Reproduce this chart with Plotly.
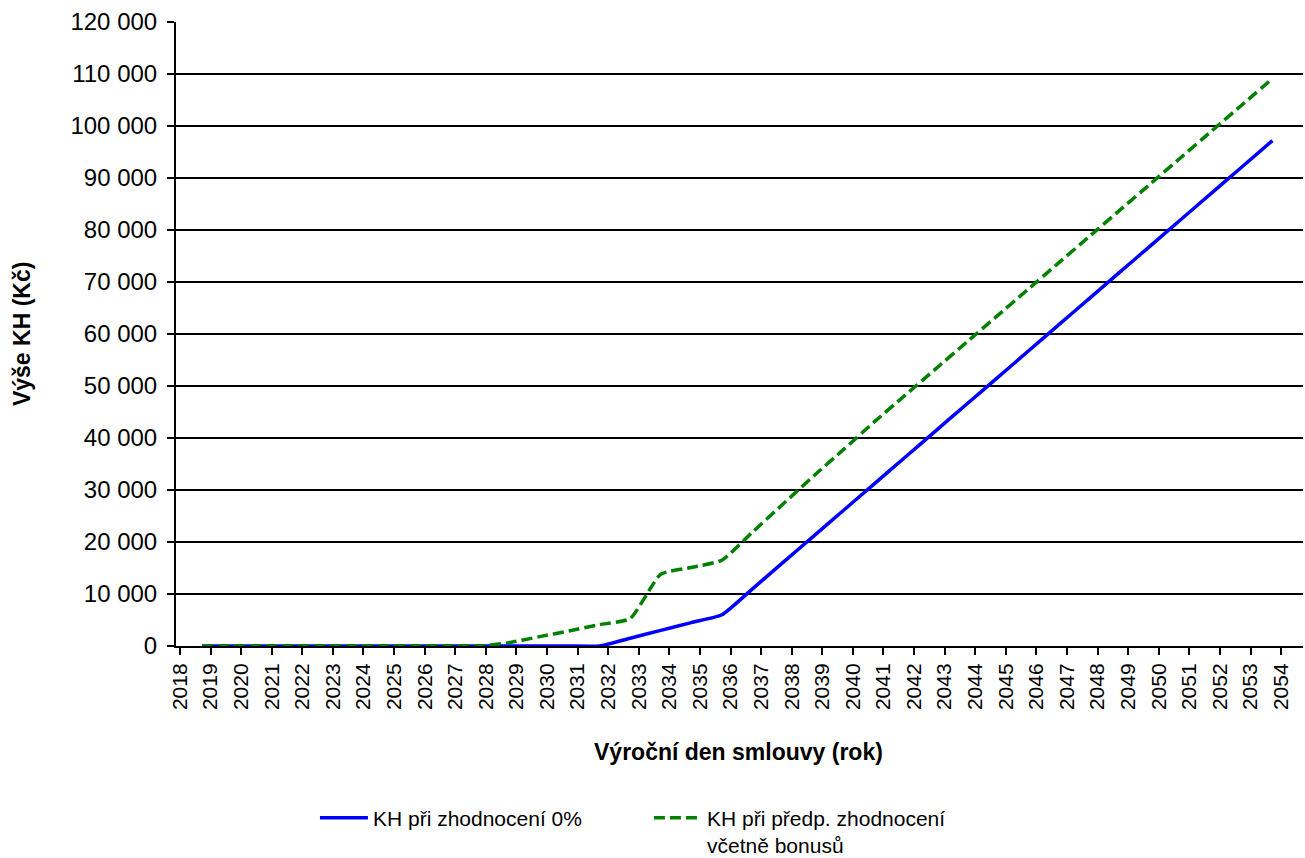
import plotly.graph_objects as go

# Anniversary dates (výroční den smlouvy)
years = list(range(2018, 2054))
dates = [f"{y}-09-20" for y in years]

# KH při zhodnocení 0 %
kh_0 = [0, 0, 0, 0, 0, 0, 0, 0, 0, 0,
        0, 0, 0, 0, 1500, 3000, 4500, 6000,
        11000, 16070, 21140, 26210, 31280, 36350, 41420, 46490, 51560,
        56630, 61700, 66770, 71840, 76910, 81980, 87050, 92120, 97190]

# KH při předp. zhodnocení včetně bonusů
kh_bonus = [0, 0, 0, 0, 0, 0, 0, 0, 0, 0,
            600, 1750, 2900, 4100, 5270, 13800, 15100, 16500,
            21900, 27300, 32700, 37900, 43200, 48270, 53340, 58410, 63480,
            68550, 73620, 78690, 83760, 88830, 93900, 98970, 104040, 109110]

series_names = ["KH při zhodnocení 0%", "KH při předp. zhodnocení<br>včetně bonusů"]
y_title = "Výše KH (Kč)"
x_title = "Výroční den smlouvy (rok)"

FONT = "Liberation Sans, Arial, sans-serif"

fig = go.Figure()
fig.add_trace(go.Scatter(
    x=dates, y=kh_0, name=series_names[0], mode="lines",
    line=dict(color="#0000FF", width=3.5, shape="spline", smoothing=0.5),
))
fig.add_trace(go.Scatter(
    x=dates, y=kh_bonus, name=series_names[1], mode="lines",
    line=dict(color="#008000", width=3.5, dash="11px,5px", shape="spline", smoothing=0.5),
))

fig.update_layout(
    width=1305, height=858,
    margin=dict(l=176, r=2, t=22, b=212, autoexpand=False),
    paper_bgcolor="white", plot_bgcolor="white",
    separators=", ",
    font=dict(family=FONT, color="black"),
    showlegend=True,
    legend=dict(
        orientation="h", x=0.1233, y=-0.2430, xanchor="left", yanchor="top",
        font=dict(size=21, family=FONT, color="black"),
        entrywidth=271, itemwidth=48, valign="top", bgcolor="rgba(0,0,0,0)",
    ),
    xaxis=dict(
        type="date",
        range=["2017-11-14", "2054-09-20"],
        tick0="2018-01-01", dtick="M12", tickformat="%Y",
        tickangle=-90,
        tickfont=dict(size=21, family=FONT, color="black"),
        ticks="outside", ticklen=7, tickwidth=1.5, tickcolor="black",
        showgrid=False, zeroline=False, automargin=False,
        showline=True, linecolor="black", linewidth=2,
    ),
    yaxis=dict(
        range=[0, 120000], dtick=10000, tick0=0, tickformat=",d",
        tickfont=dict(size=24, family=FONT, color="black"),
        ticks="outside", ticklen=7, tickwidth=1.5, tickcolor="black",
        ticklabelstandoff=5,
        showgrid=True, gridcolor="black", gridwidth=1.5,
        zeroline=False, automargin=False,
        showline=True, linecolor="black", linewidth=2,
    ),
    annotations=[
        dict(text=f"<b>{y_title}</b>", xref="paper", yref="paper",
             x=-0.1366, y=0.5, xanchor="center", yanchor="middle",
             textangle=-90, showarrow=False,
             font=dict(size=23, family=FONT, color="black")),
        dict(text=f"<b>{x_title}</b>", xref="paper", yref="paper",
             x=0.4987, y=-0.17, xanchor="center", yanchor="middle",
             showarrow=False,
             font=dict(size=23, family=FONT, color="black")),
    ],
)

fig.write_html(
    "out.html",
    config={"displayModeBar": False},
    post_script="document.body.style.margin='0';document.body.style.overflow='hidden';",
)
